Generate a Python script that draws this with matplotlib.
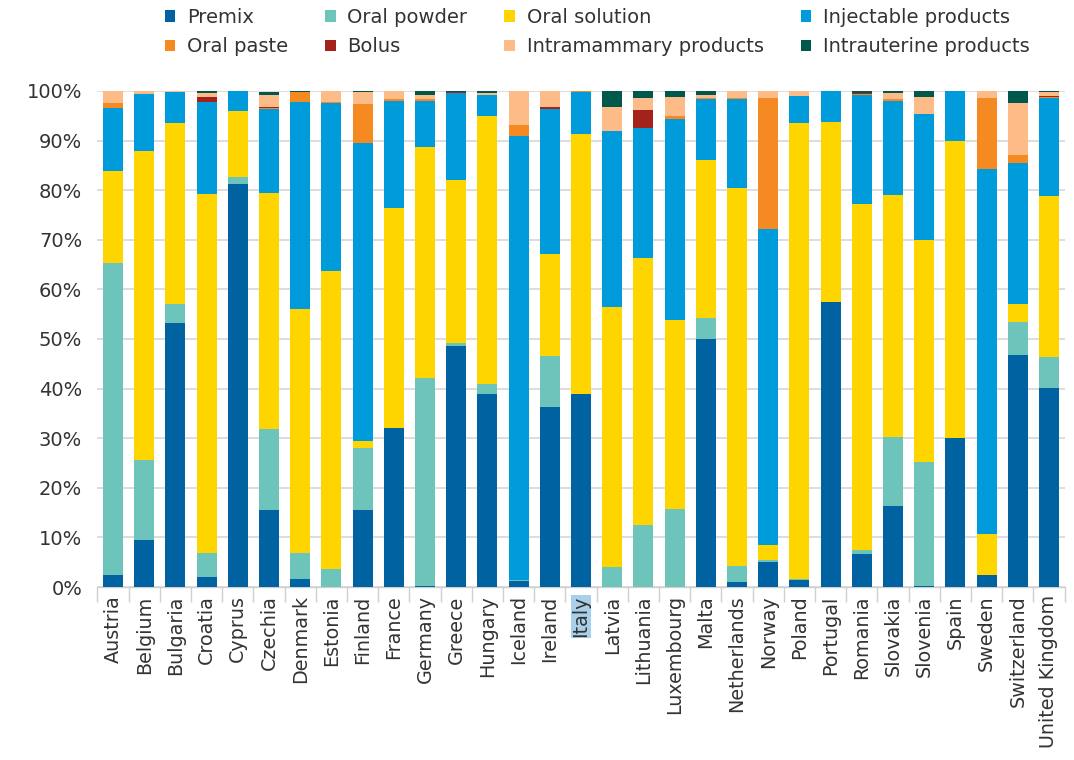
import matplotlib
matplotlib.use("Agg")
import matplotlib.pyplot as plt
from matplotlib.patches import Patch
import numpy as np

plt.rcParams['font.family'] = ['DejaVu Sans']

countries = ["Austria", "Belgium", "Bulgaria", "Croatia", "Cyprus", "Czechia", "Denmark",
             "Estonia", "Finland", "France", "Germany", "Greece", "Hungary", "Iceland",
             "Ireland", "Italy", "Latvia", "Lithuania", "Luxembourg", "Malta", "Netherlands",
             "Norway", "Poland", "Portugal", "Romania", "Slovakia", "Slovenia", "Spain",
             "Sweden", "Switzerland", "United Kingdom"]

# Share of sales (%) by pharmaceutical form
premix = [2.5, 9.5, 53.3, 2.0, 81.2, 15.5, 1.7, 0.0, 15.5, 32.1, 0.2, 48.6, 39.0, 1.2,
          36.3, 39.0, 0.0, 0.0, 0.0, 50.0, 1.0, 5.0, 1.5, 57.4, 6.6, 16.3, 0.2, 30.1,
          2.5, 46.7, 40.2]
oral_powder = [62.9, 16.1, 3.7, 4.9, 1.4, 16.4, 5.2, 3.6, 12.6, 0.0, 42.0, 0.5, 2.0, 0.15,
               10.2, 0.0, 4.0, 12.6, 15.8, 4.3, 3.2, 0.4, 0.2, 0.0, 0.8, 14.0, 25.0, 0.0,
               0.0, 6.8, 6.1]
oral_solution = [18.5, 62.2, 36.5, 72.3, 13.4, 47.5, 49.1, 60.2, 1.4, 44.3, 46.6, 32.9,
                 54.0, 0.15, 20.7, 52.3, 52.5, 53.8, 38.0, 31.8, 76.2, 3.1, 91.8, 36.3,
                 69.8, 48.7, 44.7, 59.8, 8.1, 3.5, 32.6]
injectable = [12.7, 11.5, 6.2, 18.5, 4.0, 16.9, 41.7, 33.7, 60.1, 21.6, 9.2, 17.5, 4.2,
              89.5, 29.2, 8.4, 35.5, 26.2, 40.5, 12.2, 17.9, 63.6, 5.4, 6.2, 22.0, 19.0,
              25.4, 10.1, 73.6, 28.5, 19.6]
oral_paste = [0.9, 0.0, 0.1, 0.0, 0.0, 0.2, 2.0, 0.2, 7.8, 0.4, 0.4, 0.0, 0.0, 2.1, 0.0,
              0.2, 0.0, 0.0, 0.7, 0.3, 0.3, 26.4, 0.0, 0.0, 0.2, 0.3, 0.0, 0.0, 14.3, 1.6,
              0.2]
bolus = [0.0, 0.0, 0.0, 1.0, 0.0, 0.2, 0.0, 0.0, 0.0, 0.0, 0.0, 0.3, 0.0, 0.0, 0.3, 0.0,
         0.0, 3.6, 0.0, 0.0, 0.0, 0.0, 0.0, 0.0, 0.2, 0.0, 0.0, 0.0, 0.0, 0.0, 0.3]
intramammary = [2.5, 0.7, 0.1, 0.8, 0.0, 2.4, 0.0, 2.3, 2.4, 1.6, 0.8, 0.0, 0.4, 6.9, 3.3,
                0.1, 4.8, 2.3, 3.7, 0.5, 1.4, 1.5, 1.1, 0.0, 0.0, 1.2, 3.4, 0.0, 1.5,
                10.5, 0.8]
intrauterine = [0.0, 0.0, 0.1, 0.5, 0.0, 0.6, 0.3, 0.0, 0.2, 0.0, 0.8, 0.2, 0.4, 0.0, 0.0,
                0.0, 3.2, 1.5, 1.3, 0.9, 0.0, 0.0, 0.0, 0.1, 0.4, 0.5, 1.3, 0.0, 0.0, 2.4,
                0.3]

series = [
    ("Premix", premix, "#0062A0"),
    ("Oral powder", oral_powder, "#6DC4BA"),
    ("Oral solution", oral_solution, "#FFD500"),
    ("Injectable products", injectable, "#009BDA"),
    ("Oral paste", oral_paste, "#F58A22"),
    ("Bolus", bolus, "#A3221B"),
    ("Intramammary products", intramammary, "#FDBB87"),
    ("Intrauterine products", intrauterine, "#00574B"),
]

fig = plt.figure(figsize=(10.74, 7.6), dpi=100)
ax = fig.add_axes([0.0907, 0.2276, 0.9005, 0.6527])

x = np.arange(len(countries))
bottom = np.zeros(len(countries))
handles = {}
for name, vals, color in series:
    v = np.array(vals, dtype=float)
    ax.bar(x, v, width=0.64, bottom=bottom, color=color, edgecolor='none', zorder=3)
    bottom += v
    handles[name] = Patch(facecolor=color, edgecolor='none')

ax.set_xlim(-0.5, len(countries) - 0.5)
ax.set_ylim(0, 100)
ax.set_yticks(np.arange(0, 101, 10))
ax.set_yticklabels([f"{t}%" for t in range(0, 101, 10)])
ax.yaxis.grid(True, color='#DADADA', linewidth=1.3, zorder=0)
ax.tick_params(axis='y', length=0, pad=11, labelsize=14, labelcolor='#333333')

ax.set_xticks(x)
ax.set_xticklabels(countries, rotation=90, fontsize=13.8, color='#333333')
ax.set_xticks(np.arange(-0.5, len(countries), 1), minor=True)
ax.tick_params(axis='x', which='major', length=0, pad=6)
ax.tick_params(axis='x', which='minor', length=11, width=1, color='#D0D0D0')

for lbl in ax.get_xticklabels():
    if lbl.get_text() == "Italy":
        lbl.set_bbox(dict(facecolor='#A9CFEA', edgecolor='none', pad=0.5))

for side in ['top', 'right', 'left']:
    ax.spines[side].set_visible(False)
ax.spines['bottom'].set_color('#D0D0D0')
ax.spines['bottom'].set_linewidth(1)

order = ["Premix", "Oral paste", "Oral powder", "Bolus", "Oral solution",
         "Intramammary products", "Injectable products", "Intrauterine products"]
fig.legend([handles[n] for n in order], order, ncol=4, loc='upper center',
           bbox_to_anchor=(0.556, 1.013), frameon=False, fontsize=14,
           handlelength=0.55, handleheight=0.55, handletextpad=0.6,
           columnspacing=1.9, labelspacing=0.55, labelcolor='#333333')

fig.savefig("out.png", dpi=100)
